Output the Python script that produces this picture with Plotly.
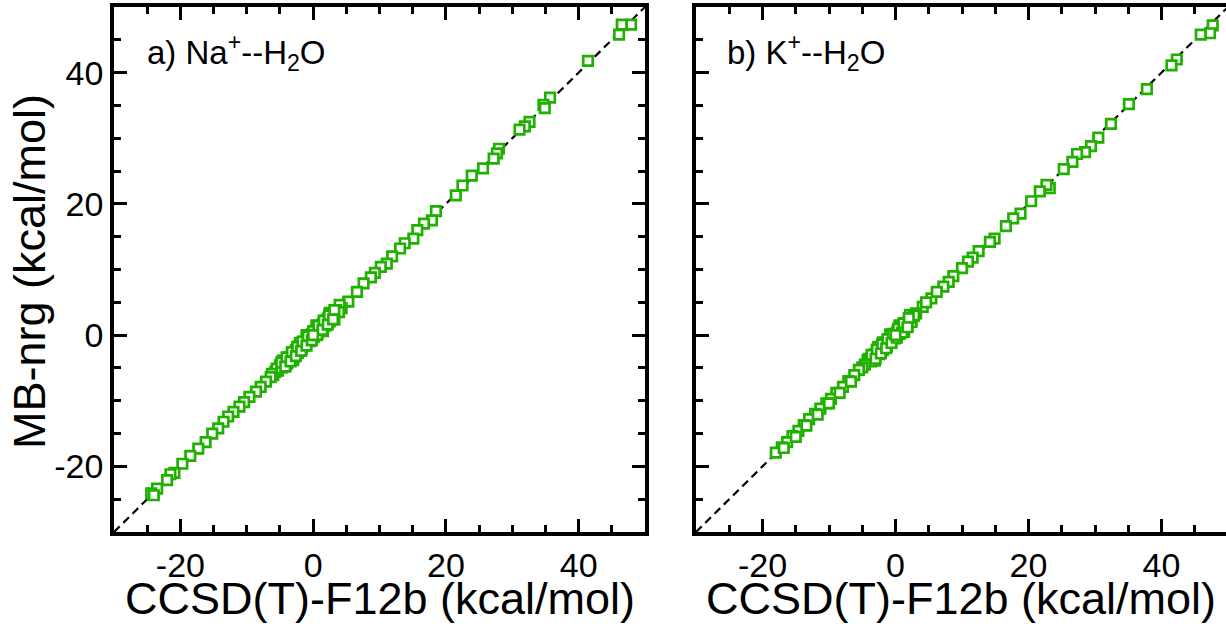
import plotly.graph_objects as go

# ---------------- data ----------------
na_ref = [47.9, 46.5, 46.1, 41.4, 35.7, 34.7, 34.9, 32.6, 31.9, 31.1, 28.0, 27.7, 27.2, 25.6,
          23.9, 22.5, 21.5, 18.5, 17.9, 16.7, 15.7, 15.1, 13.8, 13.1, 11.9, 11.1, 10.2, 9.3,
          8.7, 7.6, 6.6, 5.3, 4.3,
          3.8, 3.4, 3.0, 2.7, 2.3, 2.0, 1.7, 1.4, 1.1, 0.8, 0.5, 0.2, -0.3, -0.6, -0.9, -1.2,
          -1.5, -1.8, -2.1, -2.4, -2.7, -3.0, -3.3, -3.6, -3.9, -4.2, -4.5, -4.9, -5.3, -5.7,
          -6.0, -2.0, -1.0, 0.5, 2.5, -3.0, 1.5, 3.2, -4.6, 4.0,
          -5.0, -4.7, -4.4, -4.1, -3.8, -3.5, -3.2, -2.9, -2.6, -2.3, -2.0, -1.7, -1.4, -1.1,
          -0.8, -0.5, -0.2, 0.1, 0.4, 0.7, 1.0, 1.3, 1.6, 1.9, 2.2, 2.5, 2.8, 3.1, 3.5, 3.9,
          -5.5, -6.2,
          -4.8, -4.0, -3.2, -2.4, -1.6, -0.8, 0.0, 0.8, 1.6, 2.4, 3.2,
          -4.2, -3.4, -2.6, -1.8, -1.0, -0.2, 0.6, 1.4, 2.2, 3.0, 0.0,
          -6.4, -7.1, -7.9, -8.6, -9.6, -10.4, -11.1, -12.0, -12.8, -13.5, -14.3, -15.2,
          -16.2, -17.3, -18.5, -19.7, -20.9, -21.5, -22.0, -23.5, -24.4, -24.0]
na_mbnrg = [47.3, 47.3, 45.8, 41.8, 36.2, 35.1, 34.6, 32.5, 31.8, 31.3, 28.4, 27.7, 26.9, 25.4,
            24.3, 22.8, 21.3, 18.9, 17.5, 17.0, 16.0, 14.7, 14.0, 13.2, 12.0, 10.9, 10.4, 9.5,
            8.8, 7.9, 6.6, 5.1, 4.1,
            3.6, 3.5, 2.8, 2.9, 2.1, 2.2, 1.5, 1.6, 0.9, 1.0, 0.4, 0.4, -0.2, -0.8, -0.7, -1.0,
            -1.6, -1.5, -2.2, -2.2, -2.8, -2.8, -3.4, -3.4, -4.3, -4.0, -4.6, -4.7, -5.4, -5.6,
            -6.1, -1.2, 0.0, 1.5, 3.4, -3.8, 0.6, 2.4, -3.9, 4.6,
            -4.6, -4.9, -4.1, -4.5, -3.5, -3.9, -2.9, -3.3, -2.3, -2.7, -1.7, -2.1, -1.1, -1.5,
            -0.5, -0.9, 0.1, -0.3, 0.7, 0.3, 1.3, 0.9, 1.9, 1.5, 2.5, 2.1, 3.1, 2.7, 3.8, 3.5,
            -5.1, -5.9,
            -4.2, -3.4, -2.6, -1.8, -1.0, -0.2, 0.6, 1.4, 2.2, 3.0, 3.8,
            -4.8, -4.0, -3.2, -2.4, -1.6, -0.8, 0.0, 0.8, 1.6, 2.4, 0.0,
            -6.4, -7.1, -7.9, -8.6, -9.4, -10.2, -10.9, -11.7, -12.4, -13.2, -14.2, -15.0,
            -16.3, -17.3, -18.4, -19.6, -21.0, -21.2, -22.1, -23.4, -24.1, -24.4]

k_ref = [47.7, 47.3, 45.9, 42.3, 41.5, 37.8, 35.1, 32.4, 30.5, 29.4, 28.5, 27.3, 26.6, 25.3,
         23.2, 22.7, 21.7, 20.4, 18.8, 17.7, 16.6, 14.9, 14.2, 12.5, 11.6, 10.9, 10.0, 8.7,
         8.0, 7.2, 5.4, 4.1, 3.1,
         2.7, 2.4, 2.0, 1.7, 1.4, 1.1, 0.8, 0.5, 0.2, -0.3, -0.6, -0.9, -1.2, -1.5, -1.8,
         -2.1, -2.4, -2.7, -3.0, -3.3, -3.6, -3.9, -4.2, -1.9, -0.8, 0.6, 2.2, -3.1, 1.3,
         -2.6, 4.6, 6.2,
         -4.0, -3.7, -3.4, -3.1, -2.8, -2.5, -2.2, -1.9, -1.6, -1.3, -1.0, -0.7, -0.4, -0.1,
         0.3, 0.6, 0.9, 1.2, 1.5, 1.8, 2.1, 2.4, 2.8,
         -3.6, -2.8, -2.0, -1.2, -0.4, 0.4, 1.2, 2.0,
         -3.0, -2.2, -1.4, -0.6, 0.2, 1.0, 1.8, 0.0,
         -4.6, -5.0, -5.5, -6.2, -7.1, -7.9, -8.9, -9.7, -10.4, -11.3, -12.1, -13.0, -13.8,
         -14.6, -15.5, -16.3, -17.1, -18.0, -16.8, -15.0, -13.4, -11.7, -10.0, -8.4, -6.7]
k_mbnrg = [47.2, 46.0, 45.8, 42.0, 41.1, 37.5, 35.2, 32.2, 30.1, 28.8, 27.9, 27.6, 26.4, 25.3,
           22.4, 22.9, 21.9, 20.4, 18.5, 17.8, 16.6, 14.7, 14.2, 12.8, 11.8, 11.2, 10.2, 9.0,
           8.1, 7.4, 5.6, 4.3, 3.3,
           2.9, 2.2, 2.1, 1.8, 1.3, 1.2, 0.7, 0.6, 0.3, -0.2, -0.7, -0.8, -1.0, -1.6, -1.7,
           -2.2, -2.3, -2.8, -2.9, -3.2, -3.5, -3.7, -3.8, -1.1, 0.1, 1.5, 3.1, -3.9, 0.5,
           -1.8, 5.0, 6.6,
           -3.6, -4.0, -3.1, -3.4, -2.5, -2.9, -1.9, -2.3, -1.3, -1.7, -0.7, -1.1, -0.1, -0.5,
           0.6, 0.2, 1.2, 0.8, 1.8, 1.4, 2.4, 2.0, 3.0,
           -3.0, -2.2, -1.4, -0.6, 0.2, 1.0, 1.8, 2.6,
           -3.6, -2.8, -2.0, -1.2, -0.4, 0.4, 1.2, 0.0,
           -4.5, -4.9, -5.3, -6.1, -7.0, -7.9, -8.8, -9.7, -10.4, -11.2, -12.0, -12.8, -13.7,
           -14.6, -15.4, -16.3, -17.1, -17.9, -17.2, -15.5, -13.8, -12.1, -10.4, -8.8, -7.1]

diag = [-30, 50]
axis_range = [-30, 50]
major_ticks = [-20, 0, 20, 40]
tick_text = ["-20", "0", "20", "40"]

panel_labels = ["a) Na<sup>+</sup>--H<sub>2</sub>O", "b) K<sup>+</sup>--H<sub>2</sub>O"]
x_title = "CCSD(T)-F12b (kcal/mol)"
y_title = "MB-nrg (kcal/mol)"

# ---------------- styling ----------------
W, H = 1226, 627
GREEN = "#1fb000"
FONT = "Liberation Sans, Arial, Helvetica, sans-serif"

ya_bot, ya_top = (H - 532) / H, (H - 7) / H
xa_dom = [114 / W, 645 / W]
xb_dom = [696 / W, 1.0]
xb_range = [-30, -30 + 80 * (W - 696) / (1228 - 696)]

fig = go.Figure()

marker = dict(symbol="square", size=9.5, color="white", line=dict(color=GREEN, width=2.7))
line = dict(color="black", width=2.2, dash="8px,5px")

fig.add_trace(go.Scatter(x=diag, y=diag, mode="lines", line=line, xaxis="x", yaxis="y",
                         showlegend=False, hoverinfo="skip"))
fig.add_trace(go.Scatter(x=na_ref, y=na_mbnrg, mode="markers", marker=marker,
                         xaxis="x", yaxis="y", showlegend=False))
fig.add_trace(go.Scatter(x=diag, y=diag, mode="lines", line=line, xaxis="x2", yaxis="y2",
                         showlegend=False, hoverinfo="skip"))
fig.add_trace(go.Scatter(x=k_ref, y=k_mbnrg, mode="markers", marker=marker,
                         xaxis="x2", yaxis="y2", showlegend=False))

common = dict(
    showgrid=False, zeroline=False, showline=True, linecolor="black", linewidth=3.5,
    ticks="inside", ticklen=13, tickwidth=3, tickcolor="black",
    tickvals=major_ticks, ticktext=tick_text,
    tickfont=dict(family=FONT, size=34, color="black"),
    minor=dict(ticks="inside", dtick=5, tick0=0, ticklen=7, tickwidth=2.5, tickcolor="black"),
)

fig.update_layout(
    width=W, height=H,
    margin=dict(l=0, r=0, t=0, b=0),
    paper_bgcolor="white", plot_bgcolor="white",
    xaxis=dict(domain=xa_dom, range=axis_range, anchor="y", mirror="ticks", **common),
    yaxis=dict(domain=[ya_bot, ya_top], range=axis_range, anchor="x", mirror="ticks", **common),
    xaxis2=dict(domain=xb_dom, range=xb_range, anchor="y2", mirror="ticks", **common),
    yaxis2=dict(domain=[ya_bot, ya_top], range=axis_range, anchor="x2", mirror=False,
                showticklabels=False, **common),
    yaxis3=dict(domain=[ya_bot, ya_top], range=axis_range, anchor="x2", overlaying="y2",
                side="right", showgrid=False, zeroline=False, showline=False,
                ticks="inside", ticklen=13, tickwidth=3, tickcolor="black",
                tickvals=major_ticks, showticklabels=False,
                minor=dict(ticks="inside", dtick=5, tick0=0, ticklen=7, tickwidth=2.5,
                           tickcolor="black")),
)

ann_font = dict(family=FONT, size=33, color="black")
fig.add_annotation(text=panel_labels[0], xref="paper", yref="paper", x=145 / W, y=1 - 52 / H,
                   xanchor="left", yanchor="middle", showarrow=False, font=ann_font)
fig.add_annotation(text=panel_labels[1], xref="paper", yref="paper", x=725 / W, y=1 - 52 / H,
                   xanchor="left", yanchor="middle", showarrow=False, font=ann_font)

title_font = dict(family=FONT, size=45, color="black")
fig.add_annotation(text=x_title, xref="paper", yref="paper", x=380 / W, y=1 - 598 / H,
                   xanchor="center", yanchor="middle", showarrow=False, font=title_font)
fig.add_annotation(text=x_title, xref="paper", yref="paper", x=961 / W, y=1 - 598 / H,
                   xanchor="center", yanchor="middle", showarrow=False, font=title_font)
fig.add_annotation(text=y_title, xref="paper", yref="paper", x=29 / W, y=1 - 272 / H,
                   xanchor="center", yanchor="middle", textangle=-90, showarrow=False,
                   font=dict(family=FONT, size=45, color="black"))

fig.write_html("out.html")
